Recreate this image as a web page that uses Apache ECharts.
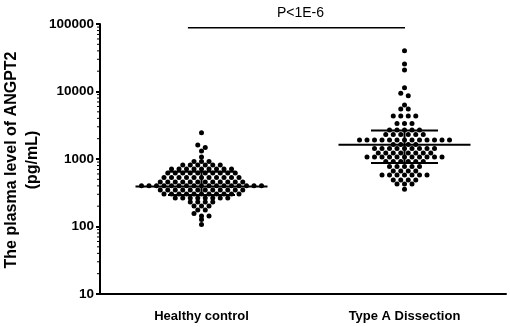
<!DOCTYPE html>
<html>
<head>
<meta charset="utf-8">
<script src="https://cdn.jsdelivr.net/npm/echarts@6/dist/echarts.min.js"></script>
<style>
  html, body { margin: 0; padding: 0; background: #fff; }
  #main { width: 510px; height: 327px; }
</style>
</head>
<body>
<div id="main"></div>
<script>
const groups = ['Healthy control', 'Type A Dissection'];
const yTitle = 'The plasma level of ANGPT2\n(pg/mL)';

// row by row (pg/mL)
const healthyValues = [
  2450,
  1610, 1480, 1310, 1070,
  920, 920, 920,
  815, 815, 815, 815, 815, 815,
  710, 710, 710, 710, 710, 710, 710, 710, 710,
  620, 620, 620, 620, 620, 620, 620, 620, 620, 620,
  530, 530, 530, 530, 530, 530, 530, 530, 530, 530, 530,
  455, 455, 455, 455, 455, 455, 455, 455, 455, 455, 455, 455,
  400, 400, 400, 400, 400, 400, 400, 400, 400, 400, 400, 400, 400, 400, 400, 400, 400,
  347, 347, 347, 347, 347, 347, 347, 347, 347, 347, 347, 347,
  303, 303, 303, 303, 303, 303, 303, 303, 303, 303, 303,
  264, 264, 264, 264, 264, 264, 264, 264,
  231, 231, 231, 231,
  201, 201, 201,
  175, 175,
  156, 143, 143, 127, 107
];
const typeAValues = [
  40200, 25500, 20800, 11400, 9400, 8670, 6310, 5500, 5500,
  4340, 4340, 4340, 4340,
  3360, 3360, 3360,
  2690, 2690, 2690, 2690, 2690,
  2310, 2310, 2310, 2310, 2310, 2310,
  1910, 1910, 1910, 1910, 1910, 1910, 1910, 1910, 1910, 1910, 1910, 1910, 1910,
  1640, 1640, 1640, 1640,
  1430, 1430, 1430, 1430, 1430, 1430, 1430, 1430, 1430,
  1230, 1230, 1230, 1230, 1230, 1230, 1230, 1230,
  1070, 1070, 1070, 1070, 1070, 1070, 1070, 1070, 1070, 1070, 1070,
  920, 920, 920, 920, 920, 920,
  775, 775, 775, 775, 775,
  665, 665, 665, 665,
  580, 580, 580, 580, 580, 580, 580,
  489, 489, 489, 489,
  426, 426, 426,
  356
];
const medians = [390, 1630];
const q1s = [293, 872];
const q3s = [650, 2640];
const pLabel = 'P<1E-6';
const sigLevel = 88000;
const minorTickValues = [
  20, 30, 40, 50, 60, 70, 80, 90,
  200, 300, 400, 500, 600, 700, 800, 900,
  2000, 3000, 4000, 5000, 6000, 7000, 8000, 9000,
  20000, 30000, 40000, 50000, 60000, 70000, 80000, 90000
];

const FONT = '"Liberation Sans", Arial, sans-serif';
const chart = echarts.init(document.getElementById('main'));

const option = {
  animation: false,
  grid: { left: 100, right: 4, top: 24, bottom: 33, outerBoundsMode: 'none' },
  graphic: [{
    type: 'text',
    x: 22,
    y: 160,
    rotation: Math.PI / 2,
    style: {
      text: yTitle, fill: '#000', font: 'bold 16px ' + FONT,
      align: 'center', verticalAlign: 'middle', lineHeight: 21
    }
  }],
  xAxis: [
    {
      type: 'category',
      data: groups,
      axisLine: { lineStyle: { color: '#000', width: 2 } },
      axisTick: { alignWithLabel: true, length: 4, lineStyle: { color: '#000', width: 2 } },
      axisLabel: { color: '#000', fontWeight: 'bold', fontSize: 13, fontFamily: FONT, margin: 16 }
    },
    { type: 'value', min: 0, max: 2, show: false }
  ],
  yAxis: {
    type: 'log',
    logBase: 10,
    min: 10,
    max: 100000,
    axisLine: { show: true, lineStyle: { color: '#000', width: 2 } },
    axisTick: { show: true, length: 4, lineStyle: { color: '#000', width: 2 } },
    splitLine: { show: false },
    axisLabel: {
      color: '#000', fontWeight: 'bold', fontSize: 13.5, fontFamily: FONT, margin: 6,
      formatter: v => String(Math.round(v))
    }
  },
  series: []
};
chart.setOption(option);

// Prism-style scatter dot layout: points whose pixel heights are nearly equal share a row,
// and each row is centred on the group with a fixed horizontal pitch.
const PITCH = 7.5, ROW_H = 3;

function dotRows(values, center) {
  const cx = chart.convertToPixel({ xAxisIndex: 1 }, center);
  const pts = values.slice().sort((a, b) => b - a)
    .map(v => ({ v: v, y: chart.convertToPixel({ yAxisIndex: 0 }, v) }));
  const rows = [];
  pts.forEach(p => {
    const row = rows[rows.length - 1];
    if (row && p.y - row[0].y < ROW_H) row.push(p);
    else rows.push([p]);
  });
  const out = [];
  rows.forEach(row => {
    row.forEach((p, i) => {
      const dx = (i - (row.length - 1) / 2) * PITCH;
      out.push([chart.convertFromPixel({ xAxisIndex: 1 }, cx + dx), p.v]);
    });
  });
  return out;
}

const stats = groups.map((g, i) => [i + 0.5, medians[i], q1s[i], q3s[i]]);

chart.setOption({
  series: [
    {
      type: 'scatter',
      xAxisIndex: 1,
      yAxisIndex: 0,
      symbol: 'circle',
      symbolSize: 5,
      itemStyle: { color: '#000', opacity: 1 },
      data: dotRows(healthyValues, 0.5).concat(dotRows(typeAValues, 1.5)),
      z: 2
    },
    {
      type: 'custom',
      xAxisIndex: 1,
      yAxisIndex: 0,
      clip: false,
      z: 3,
      data: stats,
      renderItem: (params, api) => {
        const m = api.coord([api.value(0), api.value(1)]);
        const lo = api.coord([api.value(0), api.value(2)]);
        const hi = api.coord([api.value(0), api.value(3)]);
        const st = { stroke: '#000', lineWidth: 2 };
        return {
          type: 'group',
          children: [
            { type: 'line', shape: { x1: m[0] - 66, y1: m[1], x2: m[0] + 66, y2: m[1] }, style: st },
            { type: 'line', shape: { x1: m[0] - 33.5, y1: hi[1], x2: m[0] + 33.5, y2: hi[1] }, style: st },
            { type: 'line', shape: { x1: m[0] - 33.5, y1: lo[1], x2: m[0] + 33.5, y2: lo[1] }, style: st },
            { type: 'line', shape: { x1: m[0], y1: hi[1], x2: m[0], y2: lo[1] }, style: st }
          ]
        };
      }
    },
    {
      // significance bar
      type: 'custom',
      xAxisIndex: 1,
      yAxisIndex: 0,
      clip: false,
      data: [[0.433, 1.5025, sigLevel]],
      renderItem: (params, api) => {
        const a = api.coord([api.value(0), api.value(2)]);
        const b = api.coord([api.value(1), api.value(2)]);
        return {
          type: 'group',
          children: [
            { type: 'line', shape: { x1: a[0], y1: a[1], x2: b[0], y2: b[1] }, style: { stroke: '#000', lineWidth: 1.5 } },
            {
              type: 'text', x: (a[0] + b[0]) / 2 + 4, y: a[1] - 8,
              style: { text: pLabel, fill: '#000', font: '14px ' + FONT, align: 'center', verticalAlign: 'bottom' }
            }
          ]
        };
      }
    },
    {
      // log minor ticks
      type: 'custom',
      xAxisIndex: 1,
      yAxisIndex: 0,
      clip: false,
      data: minorTickValues.map(v => [0, v]),
      renderItem: (params, api) => {
        const p = api.coord([0, api.value(1)]);
        return { type: 'line', shape: { x1: p[0] - 3, y1: p[1], x2: p[0], y2: p[1] }, style: { stroke: '#000', lineWidth: 1 } };
      }
    }
  ]
});

window.onresize = () => { chart.resize(); };
</script>
</body>
</html>
